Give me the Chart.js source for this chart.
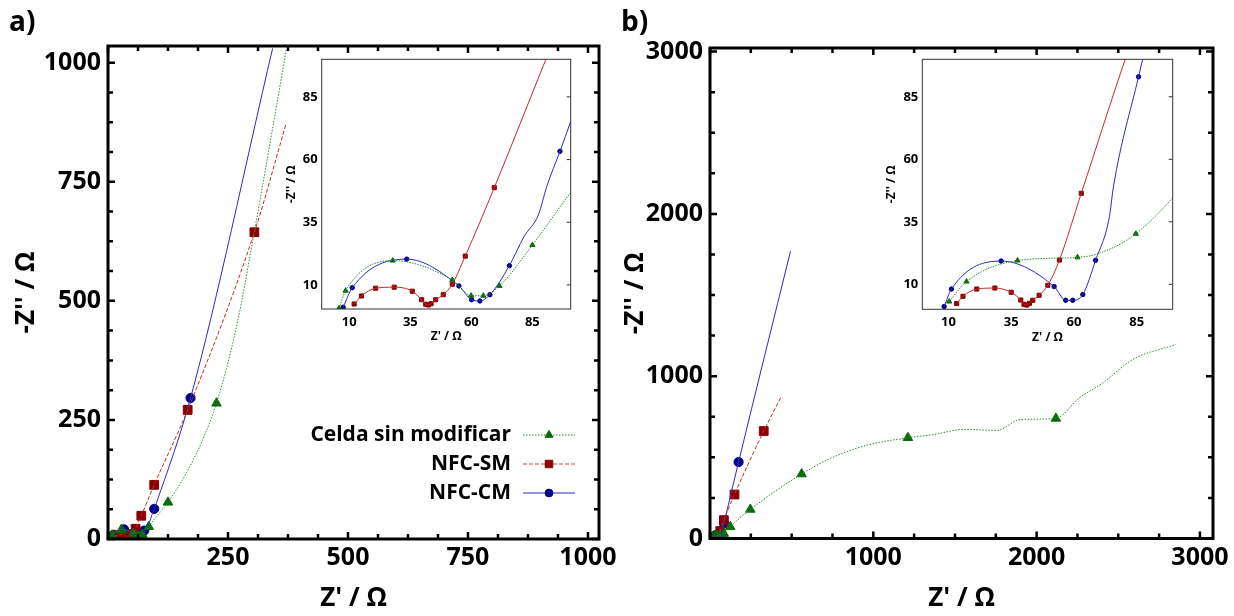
<!DOCTYPE html>
<html lang="es">
<head>
<meta charset="UTF-8">
<title>Nyquist - celdas</title>
<style>
  body { margin: 0; background: #fff; }
  #fig { position: relative; width: 1234px; height: 616px; overflow: hidden; background: #fff; }
  #fig canvas { position: absolute; left: 0; top: 0; }
  .panel-label { position: absolute; font-family: "Open Sans", "Noto Sans", sans-serif; font-weight: 700; font-size: 28px; line-height: 1; }
</style>
</head>
<body>
<div id="fig">
  <canvas id="mainA" width="1234" height="616"></canvas>
  <canvas id="mainB" width="1234" height="616"></canvas>
  <canvas id="insetA" width="1234" height="616"></canvas>
  <canvas id="insetB" width="1234" height="616"></canvas>
  <div class="panel-label" style="left:9px;top:6px">a)</div>
  <div class="panel-label" style="left:621px;top:6px">b)</div>
</div>

<script src="https://cdn.jsdelivr.net/npm/chart.js"></script>
<script>
// series names
const LABELS = ['Celda sin modificar', 'NFC-SM', 'NFC-CM'];

// panel a: points with markers, and extra points
const celdaA_marks = [[5.8,0.7],[8.5,7.7],[27.8,19.7],[52.2,12.0],[59.9,5.7],[64.9,5.7],[71.5,9.6],[85,25.9],[125,77],[226,285]];
const celdaA_path = [[100.7,46.9],[180,171],[269,452],[304,640],[372,1030]];
const smA_marks = [[12.0,2.4],[15.0,5.6],[20.8,8.7],[28.4,9.1],[35.8,7.5],[39.6,4.1],[41.3,2.3],[42.4,2.0],[43.5,2.5],[45.4,4.1],[48.5,6.1],[52.2,10.3],[57.5,21.5],[69.4,48.8],[96.3,113.7],[166,271],[305,644]];
const smA_path = [[371,872]];
const cmA_marks = [[7.5,1.1],[11.2,8.9],[33.5,20.3],[54.9,9.6],[60.1,4.1],[63.5,3.6],[67.6,6.1],[75.6,17.7],[96.3,63.3],[172,296]];
const cmA_path = [[81.6,29.3],[87.5,38.0],[90.9,49.3],[100.7,75.3],[343,1030]];

// panel b
const celdaB_marks = [[10.3,3.1],[17.2,11.1],[37.5,19.5],[61.4,20.8],[84.6,30.2],[124,72],[247,179],[561,397],[1212,621],[2118,740]];
const celdaB_path = [[69.1,22.1],[760,504],[966,576],[1372,641],[1553,672],[1757,666],[1902,733],[2262,867],[2406,959],[2587,1102],[2851,1195]];
const smB_marks = [[13.3,2.3],[15.8,5.2],[21.3,8.1],[28.5,8.5],[35.0,6.8],[38.8,3.7],[40.1,2.0],[41.2,1.7],[42.3,2.4],[43.6,3.6],[46.1,5.6],[49.6,9.6],[54.2,19.7],[62.9,46.4],[85,113],[150,271],[329,662]];
const smB_path = [[436,874]];
const cmB_marks = [[8.3,1.1],[11.2,8.1],[31.0,19.3],[52.1,9.1],[56.7,3.6],[59.5,3.6],[63.5,5.9],[68.6,19.6],[85.7,93],[175,471]];
const cmB_path = [[74.1,37.0],[75.7,49.0],[493,1770]];

// tick labels
const aXLabels = [250, 500, 750, 1000];
const aYLabels = [0, 250, 500, 750, 1000];
const bXLabels = [1000, 2000, 3000];
const bYLabels = [0, 1000, 2000, 3000];
const insetTicks = [10, 35, 60, 85];

const FONT = "'Open Sans', 'Noto Sans', sans-serif";

// look of each series (line, marker, legend sample)
const LOOK = [
  { line: '#2f8a2f', mark: '#0a6a0a', dash: [1.5, 1.5], insetDash: [1.5, 1.2], point: 'triangle', big: 5.5, small: 3,
    legLine: '#2f8a2f', legWidth: 1.2, legDash: [1.5, 1.5] },
  { line: '#c42a2a', mark: '#8a0000', dash: [4, 2], insetDash: [], point: 'rect', big: 6.2, small: 2.9,
    legLine: 'rgba(205,90,90,0.75)', legWidth: 1.5, legDash: [4, 2] },
  { line: '#2b2bc0', mark: '#00008a', dash: [], insetDash: [], point: 'circle', big: 4.6, small: 2.2,
    legLine: 'rgba(90,90,205,0.65)', legWidth: 2, legDash: [] }
];

function merged(marks, path) {
  return marks.concat(path).sort((p, q) => p[0] - q[0]).map(([x, y]) => ({ x, y }));
}

function buildSets(series, size) {
  const lines = [], marks = [];
  series.forEach(([mk, path], i) => {
    const s = LOOK[i];
    lines.push({
      label: LABELS[i], data: merged(mk, path), showLine: true,
      borderColor: s.line, borderWidth: 1, borderDash: size === 'small' ? s.insetDash : s.dash,
      pointRadius: 0, cubicInterpolationMode: 'monotone', fill: false
    });
    marks.push({
      label: LABELS[i], data: mk.map(([x, y]) => ({ x, y })), showLine: false,
      pointStyle: s.point, pointRadius: s[size], pointHoverRadius: s[size],
      backgroundColor: s.mark, borderColor: s.mark, borderWidth: 1
    });
  });
  return lines.concat(marks);
}

// white plot box, frame and inward tick marks
const frameTicks = {
  id: 'frameTicks',
  beforeDraw(chart, args, o) {
    if (!o.fill) return;
    const { ctx, chartArea: a } = chart;
    ctx.save();
    ctx.fillStyle = o.fill;
    ctx.fillRect(a.left, a.top, a.right - a.left, a.bottom - a.top);
    ctx.restore();
  },
  afterDatasetsDraw(chart, args, o) {
    const { ctx, chartArea: a, scales } = chart;
    const onStep = (v, s) => Math.abs(v / s - Math.round(v / s)) < 1e-6;
    ctx.save();
    ctx.strokeStyle = o.color;
    ctx.lineWidth = o.tickWidth;
    for (const id of ['x', 'y']) {
      const st = o[id];
      if (!st) continue;
      const sc = scales[id];
      sc.ticks.forEach(t => {
        const len = (!st.major || onStep(t.value, st.major)) ? o.majorLen : o.minorLen;
        const p = sc.getPixelForValue(t.value);
        ctx.beginPath();
        if (id === 'x') {
          if (st.near) { ctx.moveTo(p, a.bottom); ctx.lineTo(p, a.bottom - len); }
          if (st.far) { ctx.moveTo(p, a.top); ctx.lineTo(p, a.top + len); }
        } else {
          if (st.near) { ctx.moveTo(a.left, p); ctx.lineTo(a.left + len, p); }
          if (st.far) { ctx.moveTo(a.right, p); ctx.lineTo(a.right - len, p); }
        }
        ctx.stroke();
      });
    }
    ctx.lineWidth = o.frame;
    ctx.strokeRect(a.left, a.top, a.right - a.left, a.bottom - a.top);
    ctx.restore();
  }
};

// legend with text on the left and line + marker sample on the right
const sideLegend = {
  id: 'sideLegend',
  afterDraw(chart, args, o) {
    if (!o.show) return;
    const ctx = chart.ctx;
    ctx.save();
    LABELS.forEach((label, i) => {
      const s = LOOK[i];
      const y = o.y + i * o.gap;
      ctx.font = o.font;
      ctx.fillStyle = '#000';
      ctx.textAlign = 'right';
      ctx.textBaseline = 'middle';
      ctx.fillText(label, o.textRight, y);
      ctx.strokeStyle = s.legLine;
      ctx.lineWidth = s.legWidth;
      ctx.setLineDash(s.legDash);
      ctx.beginPath();
      ctx.moveTo(o.lineFrom, y);
      ctx.lineTo(o.lineTo, y);
      ctx.stroke();
      ctx.setLineDash([]);
      ctx.fillStyle = s.mark;
      ctx.strokeStyle = s.mark;
      ctx.lineWidth = 1;
      Chart.helpers.drawPoint(ctx, { pointStyle: s.point, radius: s.big * 0.85, rotation: 0, borderWidth: 1 },
        (o.lineFrom + o.lineTo) / 2, y);
    });
    ctx.restore();
  }
};

// fixed axis box size, no extra layout padding from the labels
function fixBox(axis, box) {
  return s => {
    if (axis === 'x') s.height = box; else s.width = box;
    s.paddingLeft = s.paddingRight = s.paddingTop = s.paddingBottom = 0;
  };
}

function mainScale(axis, min, max, step, labels, box, text, titlePad, tickPad) {
  return {
    type: 'linear', min, max,
    grid: { display: false, drawTicks: false },
    border: { display: false },
    afterBuildTicks: s => {
      const t = [];
      for (let v = min; v <= max + 1e-9; v += step) t.push({ value: v });
      s.ticks = t;
    },
    ticks: {
      autoSkip: false, maxRotation: 0, padding: tickPad, color: '#000',
      font: { family: FONT, weight: 'bold', size: 25 },
      callback: v => labels.includes(v) ? String(v) : ''
    },
    title: { display: true, text, color: '#000', padding: titlePad,
      font: { family: FONT, weight: 'bold', size: 26 } },
    afterFit: fixBox(axis, box)
  };
}

function insetScale(axis, min, max, box, text, titlePad, tickPad) {
  return {
    type: 'linear', min, max,
    grid: { display: false, drawTicks: false },
    border: { display: false },
    afterBuildTicks: s => { s.ticks = insetTicks.map(v => ({ value: v })); },
    ticks: { autoSkip: false, maxRotation: 0, padding: tickPad, color: '#000',
      font: { family: FONT, weight: 'bold', size: 13 } },
    title: { display: true, text, color: '#000', padding: titlePad,
      font: { family: FONT, weight: 'bold', size: 12 } },
    afterFit: fixBox(axis, box)
  };
}

function makeChart(id, datasets, scales, padding, frameOpts, legendOpts) {
  return new Chart(document.getElementById(id), {
    type: 'scatter',
    data: { datasets },
    options: {
      responsive: false, animation: false, events: [],
      layout: { padding },
      scales,
      plugins: {
        legend: { display: false }, tooltip: { enabled: false },
        frameTicks: frameOpts,
        sideLegend: legendOpts || { show: false }
      }
    },
    plugins: [frameTicks, sideLegend]
  });
}

const seriesA = [[celdaA_marks, celdaA_path], [smA_marks, smA_path], [cmA_marks, cmA_path]];
const seriesB = [[celdaB_marks, celdaB_path], [smB_marks, smB_path], [cmB_marks, cmB_path]];

const mainFrame = (xs, ys) => ({
  frame: 3, color: '#000', tickWidth: 2.5, majorLen: 7, minorLen: 5,
  x: { major: xs * 4, near: true, far: true },
  y: { major: ys * 4, near: true, far: true }
});

// panel a
makeChart('mainA', buildSets(seriesA, 'big'), {
  x: mainScale('x', 0, 1023, 62.5, aXLabels, 77, "Z' / Ω", { top: 0, bottom: 2 }, 4),
  y: mainScale('y', 0, 1035, 62.5, aYLabels, 108, "-Z'' / Ω", { top: 11, bottom: 0 }, 7)
}, { left: 0, right: 635, top: 46, bottom: 0 }, mainFrame(62.5, 62.5), {
  show: true, font: "bold 21px " + FONT, y: 435, gap: 29, textRight: 511, lineFrom: 523, lineTo: 575
});

// panel b
makeChart('mainB', buildSets(seriesB, 'big'), {
  x: mainScale('x', 0, 3080, 250, bXLabels, 77.5, "Z' / Ω", { top: 0, bottom: 2 }, 4),
  y: mainScale('y', 0, 3022, 250, bYLabels, 90, "-Z'' / Ω", { top: 0, bottom: 0 }, 7)
}, { left: 620, right: 21, top: 48, bottom: 0 }, mainFrame(250, 250));

const insetFrame = {
  fill: '#fff', frame: 1, color: '#333', tickWidth: 1, majorLen: 4, minorLen: 4,
  y: { major: null, near: false, far: true }
};

// inset a
makeChart('insetA', buildSets(seriesA, 'small'), {
  x: insetScale('x', -1.3, 100.7, 36, "Z' / Ω", { top: 0, bottom: 1 }, 5),
  y: insetScale('y', 0.4, 100, 40, "-Z'' / Ω", { top: 3, bottom: 0 }, 4)
}, { left: 281.7, right: 663.3, top: 59.3, bottom: 271 }, insetFrame);

// inset b
makeChart('insetB', buildSets(seriesB, 'small'), {
  x: insetScale('x', -0.4, 99.3, 36, "Z' / Ω", { top: 0, bottom: 1 }, 5),
  y: insetScale('y', 0, 100, 40, "-Z'' / Ω", { top: 2, bottom: 0 }, 4)
}, { left: 882.3, right: 61.3, top: 59.3, bottom: 270.7 }, insetFrame);
</script>
</body>
</html>
